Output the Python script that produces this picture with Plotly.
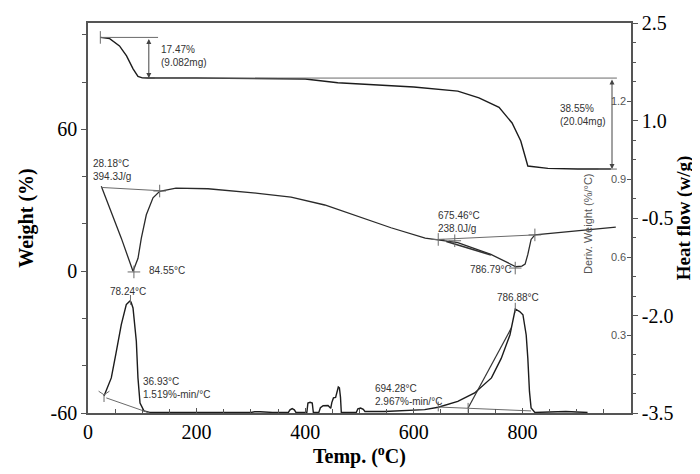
import plotly.graph_objects as go

# ---------------- data ----------------
# TGA weight curve (left axis, %)
wt_T = [22.7, 40, 58, 71, 83, 92, 100, 110, 200, 374, 400, 460, 540, 600, 681, 720, 757, 781, 797, 810, 847, 902, 963]
wt = [98.9, 98.4, 95.3, 91.1, 85.6, 82.4, 81.8, 81.7, 81.7, 81.6, 81.3, 79.7, 78.8, 77.9, 76.2, 73.3, 69.3, 62.7, 55.1, 44.5, 43.5, 43.2, 43.2]

# DSC heat flow curve (outer right axis, W/g)
dsc_T = [24.5, 36.8, 61.3, 82.9, 92.1, 98.2, 107.4, 119.7, 132.0, 162, 221, 313, 374, 436, 497, 558, 621, 681, 742, 788, 799, 805, 810, 816, 823, 897, 972]
dsc_hf = [-0.01, -0.27, -0.81, -1.32, -1.12, -0.81, -0.45, -0.19, -0.09, -0.04, -0.05, -0.12, -0.18, -0.30, -0.47, -0.65, -0.81, -0.88, -1.06, -1.25, -1.24, -1.21, -1.06, -0.83, -0.76, -0.70, -0.64]

# DTG derivative weight curve (inner right axis, %/°C)
dtg_T = [29.5, 42.9, 51.6, 61.3, 70.5, 76.8, 79.2, 82.9, 89, 92, 95.8, 103, 113.6, 150, 300, 307, 317, 340,
         369, 372, 376, 380, 383, 403, 405, 409, 413, 415, 425, 428, 433, 442, 447, 449, 452, 456, 459, 461,
         463, 465, 466.5, 494, 497, 502, 507, 510, 546, 580, 620, 645, 681, 712, 743, 761, 777, 786.9, 795,
         801, 807, 810, 813, 816, 823, 850, 880, 900, 920]
dtg = [0.065, 0.135, 0.23, 0.34, 0.417, 0.43, 0.427, 0.404, 0.276, 0.135, 0.038, 0.008, 0.002, 0.002, 0.002, 0.005, 0.005, 0.002,
       0.002, 0.012, 0.017, 0.012, 0.002, 0.002, 0.038, 0.041, 0.038, 0.002, 0.002, 0.02, 0.028, 0.029, 0.018, 0.04, 0.058, 0.06, 0.085, 0.1,
       0.097, 0.06, 0.002, 0.002, 0.016, 0.019, 0.014, 0.006, 0.006, 0.01, 0.013, 0.022, 0.045, 0.077, 0.135, 0.21, 0.30, 0.40, 0.39,
       0.378, 0.30, 0.21, 0.083, 0.019, 0.002, 0.004, 0.006, 0.004, 0.002]

# step analysis values
step1_top, step1_bot = 98.9, 81.7
step2_bot = 43.2

x_ticks = [0, 200, 400, 600, 800, 1000]
wt_ticks = [-60, 0, 60]
wt_ticktext = ['-60', '0', '60']
hf_ticks = [-3.5, -2.0, -0.5, 1.0, 2.5]
hf_ticktext = ['-3.5', '-2.0', '-0.5', '1.0', '2.5']
dtg_ticks = [0.3, 0.6, 0.9, 1.2]
dtg_ticktext = ['0.3', '0.6', '0.9', '1.2']

# ---------------- figure ----------------
LINE = '#1c1c1c'
GRAY = '#555555'
REF = '#6a6a6a'
SERIF = 'Liberation Serif'
SANS = 'Liberation Sans'

fig = go.Figure()

def line(x, y, ax='y', color=LINE, width=1.4):
    fig.add_trace(go.Scatter(x=x, y=y, mode='lines', yaxis=ax, line=dict(color=color, width=width),
                             showlegend=False, hoverinfo='skip'))

def marks(x, y, ax, symbol, size=8):
    fig.add_trace(go.Scatter(x=x, y=y, mode='markers', yaxis=ax,
                             marker=dict(symbol=symbol, size=size, color=REF, line=dict(color=REF, width=1)),
                             showlegend=False, hoverinfo='skip'))

# main curves
line(wt_T, wt, 'y')
line(dsc_T, dsc_hf, 'y2', color='#2a2a2a', width=1.3)
line(dtg_T, dtg, 'y3')

# TGA step reference lines
line([wt_T[0], 129], [step1_top, step1_top], 'y', REF, 1)
line([123, 974], [step1_bot, step1_bot], 'y', REF, 1)
line([940, 974], [step2_bot, step2_bot], 'y', REF, 1)
marks([wt_T[0]], [step1_top], 'y', 'line-ns', 9)

# DSC integration baselines and markers
line([24.5, 132], [-0.03, -0.08], 'y2', REF, 1)
line([645, 823], [-0.83, -0.76], 'y2', REF, 1)
line([660, 742], [-0.86, -1.07], 'y2', '#333333', 1.6)
marks([132, 645, 675.46, 823, 84.55, 786.79], [-0.085, -0.83, -0.85, -0.76, -1.33, -1.27], 'y2', 'cross-thin', 9)

# DTG baselines / tangents and markers
line([33.7, 113.5], [0.058, 0.0], 'y3', REF, 1)
line([645, 816], [0.023, 0.008], 'y3', REF, 1)
line([700, 779.6], [0.019, 0.327], 'y3', '#333333', 1.2)
marks([29.5], [0.07], 'y3', 'y-down-open', 9)
marks([645, 700, 78.24, 786.88], [0.025, 0.02, 0.435, 0.405], 'y3', 'line-ns', 7)

ann_font = dict(family=SANS, size=10, color='#333333')
annotations = [
    dict(x=131, y=91.0, text='17.47%<br>(9.082mg)', xanchor='left'),
    dict(x=865, y=65.9, text='38.55%<br>(20.04mg)', xanchor='left'),
    dict(x=5.5, y=42.6, text='28.18°C<br>394.3J/g', xanchor='left'),
    dict(x=108.7, y=0.5, text='84.55°C', xanchor='left'),
    dict(x=641, y=21.0, text='675.46°C<br>238.0J/g', xanchor='left'),
    dict(x=700, y=0.7, text='786.79°C', xanchor='left'),
    dict(x=74, y=-8.6, text='78.24°C', xanchor='center'),
    dict(x=792, y=-11.1, text='786.88°C', xanchor='center'),
    dict(x=97.6, y=-49.4, text='36.93°C<br>1.519%-min/°C', xanchor='left'),
    dict(x=525, y=-52.2, text='694.28°C<br>2.967%-min/°C', xanchor='left'),
]
for a in annotations:
    a.update(xref='x', yref='y', showarrow=False, font=ann_font, align='left', yanchor='middle')

# step arrows
for xa, y0, y1 in [(112, step1_top, step1_bot), (965, step1_bot, step2_bot)]:
    annotations.append(dict(x=xa, y=y1, ax=xa, ay=y0, xref='x', yref='y', axref='x', ayref='y',
                            text='', showarrow=True, arrowhead=2, startarrowhead=2, arrowside='end+start',
                            arrowsize=1, arrowwidth=1, arrowcolor='#444444'))

# inner axis title
annotations.append(dict(x=0.9355, y=0.487, xref='paper', yref='paper', text='Deriv. Weight (%/°C)',
                        textangle=-90, showarrow=False, font=dict(family=SANS, size=11, color='#555555')))

dtg_minor = [round(0.075 * i, 3) for i in range(1, 20) if i % 4 != 0]

fig.update_layout(
    width=700, height=474,
    margin=dict(l=80, r=77, t=15, b=69),
    plot_bgcolor='white', paper_bgcolor='white',
    showlegend=False,
    annotations=annotations,
    xaxis=dict(range=[0, 1000], tickvals=x_ticks, ticks='inside', ticklen=5, tickcolor=GRAY, tickwidth=1,
               showline=True, linecolor=GRAY, linewidth=1.5, mirror=True, showgrid=False, zeroline=False,
               minor=dict(tickvals=list(range(50, 1000, 50)), ticks='inside', ticklen=4, tickcolor=GRAY),
               tickfont=dict(family=SERIF, size=20, color='black'),
               title=dict(text='<b>Temp. (<sup>o</sup>C)</b>', font=dict(family=SERIF, size=20, color='black'),
                          standoff=6),
               automargin=False),
    yaxis=dict(range=[-60, 105], tickvals=wt_ticks, ticktext=wt_ticktext, ticks='outside', ticklen=5,
               tickcolor=GRAY, showline=True, linecolor=GRAY, linewidth=1.5, showgrid=False, zeroline=False,
               minor=dict(tickvals=[-40, -20, 20, 40, 80, 100], ticks='outside', ticklen=4, tickcolor=GRAY),
               tickfont=dict(family=SERIF, size=20, color='black'),
               title=dict(text='<b>Weight (%)</b>', font=dict(family=SERIF, size=20, color='black'), standoff=12),
               automargin=False),
    yaxis2=dict(range=[-3.5, 2.5], overlaying='y', side='right', anchor='x', tickvals=hf_ticks,
                ticktext=hf_ticktext, ticks='outside', ticklen=5, tickcolor=GRAY, showline=True,
                linecolor=GRAY, linewidth=1.5, showgrid=False, zeroline=False,
                tickfont=dict(family=SERIF, size=20, color='black'),
                title=dict(text='<b>Heat flow (w/g)</b>', font=dict(family=SERIF, size=19, color='black'),
                           standoff=3),
                automargin=False),
    yaxis3=dict(range=[0, 1.5], overlaying='y', side='right', anchor='x', tickvals=dtg_ticks,
                ticktext=dtg_ticktext, ticks='inside', ticklen=4, tickcolor=GRAY, ticklabelposition='inside',
                showline=False, showgrid=False, zeroline=False,
                minor=dict(tickvals=dtg_minor, ticks='outside', ticklen=4, tickcolor=GRAY),
                tickfont=dict(family=SANS, size=11, color='#555555'),
                automargin=False),
)

fig.write_html('out.html')
